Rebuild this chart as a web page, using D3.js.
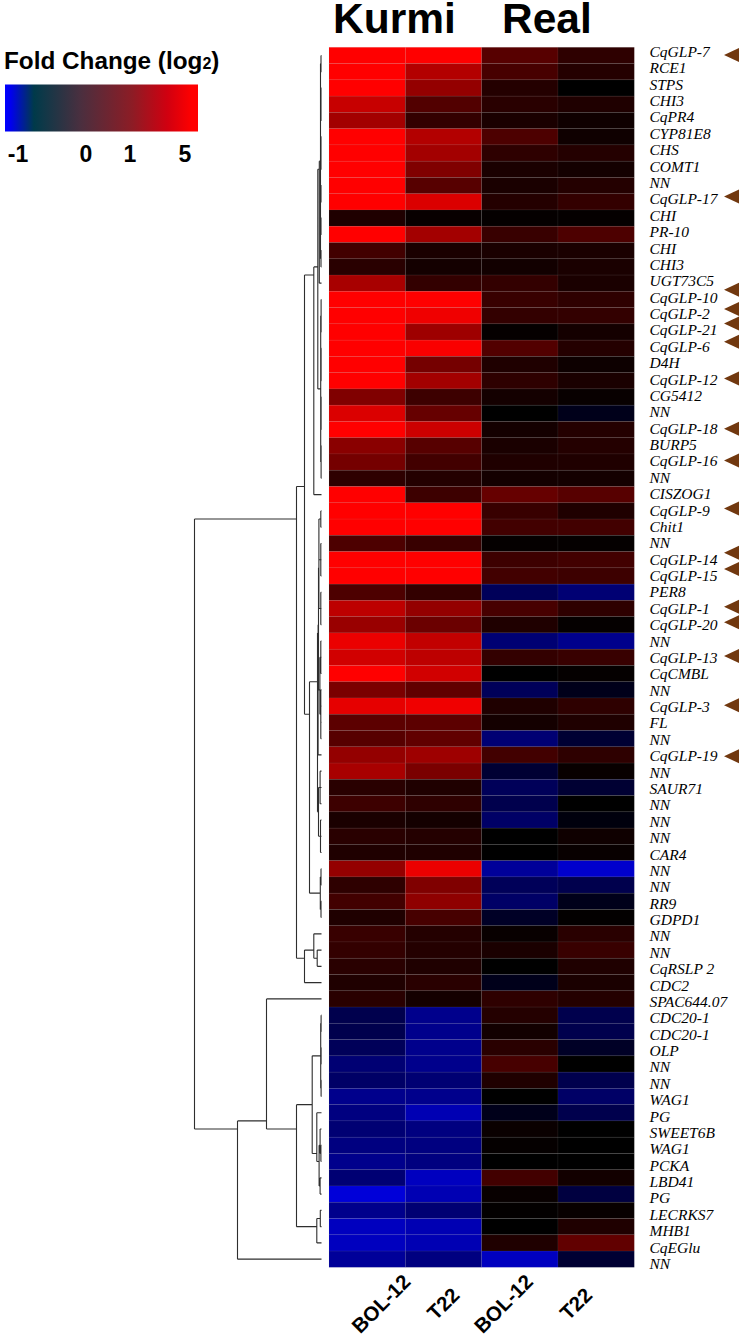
<!DOCTYPE html>
<html>
<head>
<meta charset="utf-8">
<title>Fold Change heatmap</title>
<script src="https://d3js.org/d3.v7.min.js"></script>
<style>
  html, body { margin: 0; background: white; }
  svg { display: block; }
  .head { font-family: "Liberation Sans", sans-serif; font-weight: bold; fill: black; }
  .gene { font-family: "Liberation Serif", serif; font-style: italic; font-size: 15.5px; fill: black; }
  .link { fill: none; stroke: #2e2e2e; stroke-width: 1.1; }
</style>
</head>
<body>
<div class="chart"></div>
<script>
const genes = ["CqGLP-7","RCE1","STPS","CHI3","CqPR4","CYP81E8","CHS","COMT1","NN","CqGLP-17",
  "CHI","PR-10","CHI","CHI3","UGT73C5","CqGLP-10","CqGLP-2","CqGLP-21","CqGLP-6","D4H",
  "CqGLP-12","CG5412","NN","CqGLP-18","BURP5","CqGLP-16","NN","CISZOG1","CqGLP-9","Chit1",
  "NN","CqGLP-14","CqGLP-15","PER8","CqGLP-1","CqGLP-20","NN","CqGLP-13","CqCMBL","NN",
  "CqGLP-3","FL","NN","CqGLP-19","NN","SAUR71","NN","NN","NN","CAR4",
  "NN","NN","RR9","GDPD1","NN","NN","CqRSLP 2","CDC2","SPAC644.07","CDC20-1",
  "CDC20-1","OLP","NN","NN","WAG1","PG","SWEET6B","WAG1","PCKA","LBD41",
  "PG","LECRKS7","MHB1","CqEGlu","NN"];

const columns = ["BOL-12", "T22", "BOL-12", "T22"];
const groups = ["Kurmi", "Real"];

// log2 fold change (one array per column, same order as genes)
const kurmiBol = [5,5,5,3.9,3.2,5,5,5,5,5,
  0.6,5,1.3,0.8,3.3,5,5,5,5,5,
  5,2.5,4.3,5,2.7,2.3,0.9,5,5,5,
  1.5,5,5,1.5,3.7,3.0,4.6,4.1,5,2.4,
  4.5,1.8,1.7,2.9,3.3,0.8,1.2,0.5,0.8,0.6,
  2.9,0.9,1.3,0.6,1.1,1.0,0.8,0.6,0.8,-0.3,
  -0.3,-0.35,-0.45,-0.4,-0.55,-0.5,-0.45,-0.5,-0.55,-0.45,
  -0.85,-0.55,-0.75,-0.75,-0.6];
const kurmiT22 = [5,3.5,2.9,1.6,1.0,3.5,3.2,2.5,1.7,4.3,
  0.15,3.2,0.5,0.4,1.0,5,4.7,3.1,4.9,2.3,
  3.2,1.2,2.0,4.0,1.7,1.3,0.7,1.2,5,5,
  1.1,5,5,1.0,2.9,2.1,3.8,3.7,4.1,1.9,
  4.7,1.8,1.9,3.1,2.4,0.6,0.9,0.4,0.7,0.6,
  4.6,2.5,2.8,1.4,0.7,0.7,0.6,0.8,0.4,-0.55,
  -0.55,-0.55,-0.55,-0.45,-0.55,-0.7,-0.5,-0.5,-0.5,-0.75,
  -0.7,-0.45,-0.7,-0.7,-0.5];
const realBol = [1.7,1.4,0.7,0.8,0.5,1.5,0.9,0.5,0.5,0.7,
  0.1,1.1,0.5,0.35,1.0,1.1,1.0,0.1,1.6,0.6,
  0.9,0.4,0,0.4,0.5,0.6,0.4,2.0,1.1,1.3,
  0.1,1.2,1.3,-0.35,1.4,0.6,-0.45,1.0,0,-0.35,
  0.6,0.4,-0.45,1.3,-0.2,-0.35,-0.3,-0.4,0,0,
  -0.6,-0.35,-0.4,-0.15,0.15,0.5,0,-0.1,0.9,0.7,
  0.35,0.8,1.4,0.6,0,-0.1,0.2,0.1,0,1.3,
  0.15,0.05,0,0.6,-0.75];
const realT22 = [0.9,0.7,0,0.6,0.3,0.3,0.7,0.4,0.7,1.0,
  0.1,1.5,0.5,0.5,0.5,0.9,1.0,0.4,0.7,0.25,
  0.5,0.15,-0.1,0.7,0.7,0.6,0.4,1.7,0.6,1.3,
  0.1,1.3,1.2,-0.45,0.9,0.1,-0.55,1.1,0.1,-0.1,
  0.9,0.6,-0.2,0.9,0.15,-0.2,0,-0.05,0.3,0.15,
  -0.8,-0.3,-0.1,0.05,0.8,1.1,0.6,0.5,0.7,-0.3,
  -0.3,-0.15,0,-0.3,-0.4,-0.3,0,0,0,0.35,
  -0.25,0.15,0.6,1.9,-0.2];
const valuesByColumn = [kurmiBol, kurmiT22, realBol, realT22];

const legendTicks = [-1, 0, 1, 5];
const legendColors = ["#0000ff", "#0000ee", "#003a4a", "#4a2f3f", "#8d1c25", "#d00010", "#ff0000", "#ff0000"];

// small helper for the clustering: first arg is merge height, the rest children (number = gene row, 1-based)
const N = (h, ...kids) => ({ h: h, c: kids.map(k => typeof k === "number" ? { h: 0, row: k - 1 } : k) });

const topCluster = N(3.7,
  N(2.2,
    N(1, N(0.5, 1, 2), N(0.5, 3, 4, 5), N(0.5, 6, 7, 8), N(0.5, 9, 10), N(0.5, 11, 12), N(0.5, 13, 14)),
    15),
  N(0.8, N(0.4, 16, 17, 18), N(0.4, 19, 20, 21), N(0.4, 22, 23, 24), N(0.4, 25, 26, 27)));

const midCluster = N(4,
  N(3.4,
    N(3,
      N(2.6, N(0.7, 29, 30), N(0.7, 31, 32, 33), N(0.7, 34, 35, 36)),
      N(1.6, N(0.7, 37, 38, 39), N(0.7, 40, 41, 42, 43))),
    44),
  N(3, N(1.4, 45, 46, 47), N(1, 48, 49, 50)));

const dendro = N(127,
  N(25,
    N(17,
      N(7.7, topCluster, 28),
      N(12, midCluster, N(1.2, N(0.5, 51, 52), N(0.5, 53, 54)))),
    N(17, N(7.7, 55, N(4.3, 56, 57)), 58)),
  N(84,
    N(55,
      59,
      N(25,
        N(9.3,
          N(0.8, N(0.4, 60, 61), N(0.4, 62, 63), N(0.4, 64, 65)),
          N(4.7, 66, N(2.4, N(1.4, 67, N(0.6, 68, 69)), N(1.4, 70, 71)))),
        N(4.7, N(1.2, 72, 73), 74))),
    75));

const w = 745;
const h = 1339;

const svg = d3.select(".chart").append("svg")
  .attr("width", w)
  .attr("height", h);

// heat map
const xCol = d3.scaleBand().domain(d3.range(columns.length)).range([329, 634.3]);
const yRow = d3.scaleBand().domain(d3.range(genes.length)).range([47.3, 1267.3]);
const heat = d3.scaleLinear().domain([-1, 0, 5]).range(["#0000ff", "#000000", "#ff0000"]);

const cells = [];
valuesByColumn.forEach((vals, c) => vals.forEach((v, r) => cells.push({ c: c, r: r, v: v })));

svg.append("g").selectAll("rect")
  .data(cells)
  .enter()
  .append("rect")
  .attr("x", d => xCol(d.c))
  .attr("y", d => yRow(d.r))
  .attr("width", xCol.bandwidth())
  .attr("height", yRow.bandwidth())
  .attr("fill", d => heat(d.v))
  .attr("stroke", "rgba(150,150,150,0.1)")
  .attr("stroke-width", 0.8);

// group titles
const groupX = [333, 502];
svg.selectAll(".head-group")
  .data(groups)
  .enter()
  .append("text")
  .attr("class", "head")
  .attr("x", (d, i) => groupX[i])
  .attr("y", 33)
  .attr("font-size", 42.5)
  .text(d => d);

// gene labels do not sit exactly on the rows in the original
const yLabel = d3.scaleLinear().domain([0, genes.length - 1]).range([52, 1264]);

svg.append("g").selectAll("text")
  .data(genes)
  .enter()
  .append("text")
  .attr("class", "gene")
  .attr("x", 649.5)
  .attr("y", (d, i) => yLabel(i))
  .attr("dy", "0.32em")
  .text(d => d);

// arrows next to the CqGLP genes, placed by hand in the original
const arrowNudge = { "CqGLP-7": 3, "CqGLP-17": -3, "CqGLP-16": -1, "CqGLP-10": -8, "CqGLP-2": -5, "CqGLP-21": -7,
  "CqGLP-6": -5, "CqGLP-12": -1, "CqGLP-18": 0, "CqGLP-9": -2, "CqGLP-14": -7, "CqGLP-15": -7,
  "CqGLP-1": -2, "CqGLP-20": -3, "CqGLP-13": -2, "CqGLP-3": -2, "CqGLP-19": 0 };

svg.append("g").selectAll("path")
  .data(genes.map((g, i) => ({ g: g, i: i })).filter(d => d.g.startsWith("CqGLP")))
  .enter()
  .append("path")
  .attr("d", d => {
    const y = yLabel(d.i) + (arrowNudge[d.g] || 0);
    return `M724,${y}L739,${y - 7}L739,${y + 7}Z`;
  })
  .attr("fill", "#71380f");

// column labels
const columnNudge = [15, 1, -15, -19];
svg.append("g").selectAll("text")
  .data(columns)
  .enter()
  .append("text")
  .attr("class", "head")
  .attr("font-size", 20.5)
  .attr("text-anchor", "middle")
  .attr("dominant-baseline", "middle")
  .attr("transform", (d, i) => `translate(${xCol(i) + xCol.bandwidth() / 2 + columnNudge[i]},1305) rotate(-45)`)
  .text(d => d);

// dendrogram
const root = d3.hierarchy(dendro, d => d.c);
const xDist = d3.scaleLinear().domain([0, 127]).range([321.5, 194.5]);
const nodeY = n => d3.mean(n.leaves(), l => yRow(l.data.row) + yRow.bandwidth() / 2);

const path = d3.path();
root.each(n => {
  if (n.parent) {
    path.moveTo(xDist(n.parent.data.h), nodeY(n));
    path.lineTo(xDist(n.data.h), nodeY(n));
  }
  if (n.children) {
    path.moveTo(xDist(n.data.h), nodeY(n.children[0]));
    path.lineTo(xDist(n.data.h), nodeY(n.children[n.children.length - 1]));
  }
});
svg.append("path").attr("class", "link").attr("d", path.toString());

// legend
const defs = svg.append("defs");
const grad = defs.append("linearGradient").attr("id", "legend-grad");
const stopOffset = [0, 0.03, 0.15, 0.39, 0.66, 0.84, 0.97, 1];
grad.selectAll("stop")
  .data(legendColors)
  .enter()
  .append("stop")
  .attr("offset", (d, i) => stopOffset[i])
  .attr("stop-color", d => d);

svg.append("rect")
  .attr("x", 5)
  .attr("y", 84.5)
  .attr("width", 193)
  .attr("height", 47)
  .attr("fill", "url(#legend-grad)");

const title = svg.append("text")
  .attr("class", "head")
  .attr("x", 4)
  .attr("y", 69)
  .attr("font-size", 24.3)
  .text("Fold Change (log");
title.append("tspan").attr("font-size", 16).text("2");
title.append("tspan").text(")");

const xLegend = d3.scaleLinear().domain(legendTicks).range([18, 86, 130, 185]);
svg.append("g").selectAll("text")
  .data(legendTicks)
  .enter()
  .append("text")
  .attr("class", "head")
  .attr("font-size", 23)
  .attr("text-anchor", "middle")
  .attr("x", d => xLegend(d))
  .attr("y", 162)
  .text(d => d);
</script>
</body>
</html>
